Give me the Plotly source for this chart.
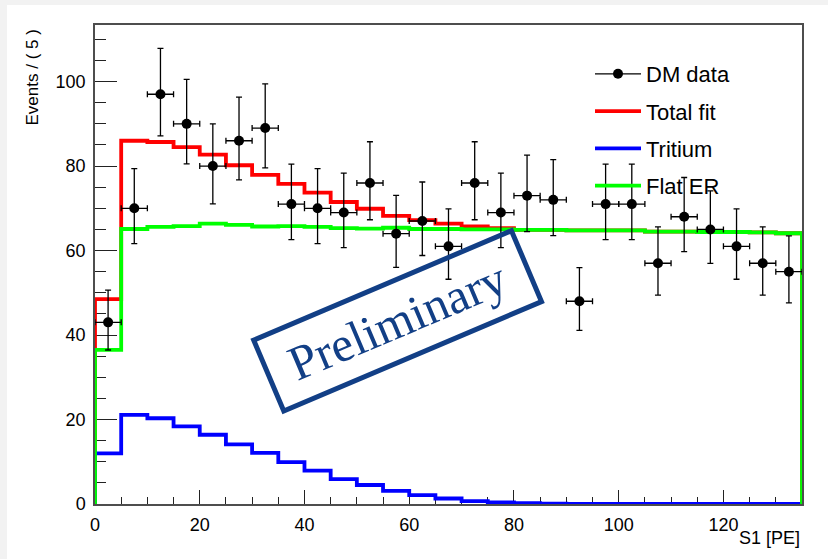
import numpy as np
import plotly.graph_objects as go

# ---- data ----
bin_low_edges = [0, 5, 10, 15, 20, 25, 30, 35, 40, 45, 50, 55, 60, 65, 70,
                 75, 80, 85, 90, 95, 100, 105, 110, 115, 120, 125, 130]
bin_width = 5
x_max = 135

dm_data = [43, 70, 97, 90, 80, 86, 89, 71, 70, 69, 76, 64, 67, 61, 76,
           69, 73, 72, 48, 71, 71, 57, 68, 65, 61, 57, 55]

total_fit = [48.5, 86.0, 85.7, 84.5, 82.7, 80.2, 77.9, 75.8, 73.7, 71.5, 69.9,
             68.2, 67.2, 66.4, 65.7, 65.3, 64.9, 64.9, 64.8, 64.8, 64.8, 64.5,
             64.5, 64.4, 64.4, 64.3, 64.1]

tritium = [12.0, 21.1, 20.3, 18.4, 16.4, 14.1, 12.1, 9.9, 7.9, 5.9, 4.5, 3.1,
           2.1, 1.3, 0.7, 0.4, 0.2, 0.1, 0.05, 0.03, 0.02, 0.01, 0.0, 0.0,
           0.0, 0.0, 0.0]

flat_er = [36.5, 65.1, 65.6, 65.8, 66.4, 66.1, 65.7, 65.8, 65.6, 65.3, 65.2,
           65.4, 65.1, 65.1, 65.0, 65.0, 64.9, 64.9, 64.8, 64.8, 64.8, 64.5,
           64.5, 64.4, 64.4, 64.3, 64.1]

# ---- derived ----
edges = np.array(bin_low_edges, dtype=float)
centers = edges + bin_width / 2.0
counts = np.array(dm_data, dtype=float)
# Poisson (Garwood-like) asymmetric errors, as RooFit draws them
err_up = 1.0 + np.sqrt(counts + 0.75)
err_lo = np.sqrt(counts - 0.25)


def step_xy(vals):
    xs = [edges[0]] + list(edges) + [x_max, x_max]
    ys = [0.0] + list(vals) + [vals[-1], 0.0]
    return xs, ys


FONT = "Liberation Sans, Arial, Helvetica, sans-serif"

fig = go.Figure()

# legend-only entry for data (line + marker like ROOT)
fig.add_trace(go.Scatter(x=[None], y=[None], mode="lines+markers", name="DM data",
                         line=dict(color="black", width=1.2),
                         marker=dict(color="black", size=10, symbol="circle"),
                         legendgroup="a"))

for name, vals, col, grp in [("Total fit", total_fit, "#ff0000", "b"),
                             ("Tritium", tritium, "#0000ff", "c"),
                             ("Flat ER", flat_er, "#00ff00", "d")]:
    xs, ys = step_xy(vals)
    fig.add_trace(go.Scatter(x=xs, y=ys, mode="lines", line_shape="hv", name=name,
                             line=dict(color=col, width=3.8), legendgroup=grp))

fig.add_trace(go.Scatter(
    x=centers, y=counts, mode="markers", showlegend=False,
    marker=dict(color="black", size=10, symbol="circle"),
    error_y=dict(type="data", symmetric=False, array=err_up, arrayminus=err_lo,
                 color="black", thickness=1.3, width=3),
    error_x=dict(type="constant", value=bin_width / 2.0,
                 color="black", thickness=1.3, width=3),
))

# Preliminary stamp
fig.add_annotation(x=57.7, y=43.4, xref="x", yref="y", text="Preliminary",
                   showarrow=False, textangle=-23,
                   font=dict(family="Liberation Serif, Times New Roman, serif",
                             size=49, color="#123f86"),
                   width=275, height=72, borderpad=0,
                   bordercolor="#123f86", borderwidth=5,
                   xanchor="center", yanchor="middle")

# axis titles (ROOT-style alignment)
plot_w, plot_h = 707, 479
fig.add_annotation(x=(32 - 95) / plot_w, y=(504 - 77.5) / plot_h, xref="paper", yref="paper",
                   text="Events / ( 5 )", textangle=-90, showarrow=False,
                   font=dict(family=FONT, size=17, color="black"),
                   xanchor="center", yanchor="middle")
fig.add_annotation(x=1.0, y=(504 - 538) / plot_h, xref="paper", yref="paper",
                   text="S1 [PE]", showarrow=False,
                   font=dict(family=FONT, size=18, color="black"),
                   xanchor="right", yanchor="middle")

# gray outer border on left and top
fig.add_shape(type="rect", xref="paper", yref="paper",
              x0=(7 - 95) / plot_w, x1=(840 - 95) / plot_w,
              y0=(504 - 570) / plot_h, y1=(504 - 5) / plot_h,
              fillcolor="white", line=dict(width=0), layer="below")

fig.update_layout(
    width=828, height=559,
    margin=dict(l=95, r=26, t=25, b=55),
    paper_bgcolor="#f2f2f2", plot_bgcolor="white",
    font=dict(family=FONT, size=18, color="black"),
    showlegend=True,
    legend=dict(x=(590 - 95) / plot_w, y=(504 - 53) / plot_h, xanchor="left", yanchor="top",
                bgcolor="rgba(0,0,0,0)", borderwidth=0,
                font=dict(family=FONT, size=22, color="black"),
                traceorder="grouped", tracegroupgap=5.7, itemwidth=46),
)

fig.update_xaxes(range=[0, x_max], showgrid=False, zeroline=False,
                 showline=True, mirror=True, linecolor="#4d4d4d", linewidth=1.5,
                 ticks="inside", ticklen=14, tickcolor="#222", tickwidth=1,
                 tick0=0, dtick=20, ticklabelstandoff=4,
                 minor=dict(ticks="inside", ticklen=7, dtick=5, tickcolor="#222", tickwidth=1),
                 layer="below traces",
                 tickfont=dict(family=FONT, size=18, color="black"))
fig.update_yaxes(range=[0, 113.4], showgrid=False, zeroline=False,
                 showline=True, mirror=True, linecolor="#4d4d4d", linewidth=1.5,
                 ticks="inside", ticklen=22, tickcolor="#222", tickwidth=1,
                 tick0=0, dtick=20, ticklabelstandoff=4,
                 minor=dict(ticks="inside", ticklen=11, dtick=5, tickcolor="#222", tickwidth=1),
                 layer="below traces",
                 tickfont=dict(family=FONT, size=18, color="black"))

fig.write_html("out.html", config={"displayModeBar": False},
               post_script="document.body.style.margin='0px';document.body.style.overflow='hidden';")
